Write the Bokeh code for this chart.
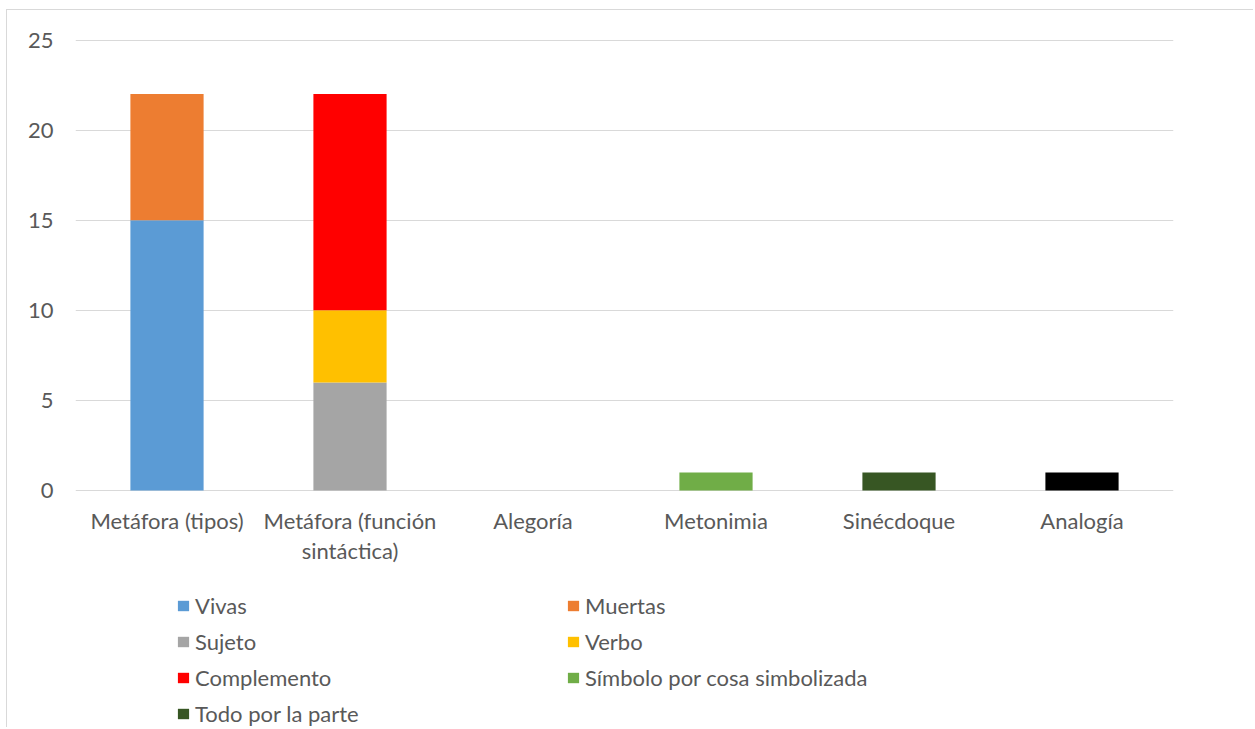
from bokeh.plotting import figure
from bokeh.models import Range1d, FactorRange, Legend, LegendItem, ColumnDataSource
from bokeh.core.properties import value
from bokeh.embed import file_html
from bokeh.resources import INLINE

# ---- data ----
categories = ["Metáfora (tipos)", "Metáfora (función sintáctica)", "Alegoría",
              "Metonimia", "Sinécdoque", "Analogía"]
tick_labels = ["Metáfora (tipos)", "Metáfora (función\nsintáctica)", "Alegoría",
               "Metonimia", "Sinécdoque", "Analogía"]
series = ["Vivas", "Muertas", "Sujeto", "Verbo", "Complemento",
          "Símbolo por cosa simbolizada", "Todo por la parte", "Analogía"]
vivas = [15, 0, 0, 0, 0, 0]
muertas = [7, 0, 0, 0, 0, 0]
sujeto = [0, 6, 0, 0, 0, 0]
verbo = [0, 4, 0, 0, 0, 0]
complemento = [0, 12, 0, 0, 0, 0]
simbolo = [0, 0, 0, 1, 0, 0]
todo = [0, 0, 0, 0, 1, 0]
analogia = [0, 0, 0, 0, 0, 1]
y_ticks = [0, 5, 10, 15, 20, 25]

colors = ["#5B9BD5", "#ED7D31", "#A5A5A5", "#FFC000", "#FF0000",
          "#70AD47", "#375623", "#000000"]

FONT = "Lato"
TXT = "#595959"
GRID = "#D9D9D9"

# ---- layout numbers (pixels) ----
W, H = 1247, 718
LEFT, TOP, RIGHT = 68, 29, 81
FRAME_H = H - TOP          # frame runs to the bottom of the canvas
AXIS_H = 451               # pixels between value 0 and the top of the frame
Y_TOP = 25.03
y_bottom = -(FRAME_H - AXIS_H) * Y_TOP / AXIS_H

keys = ["s%d" % i for i in range(len(series))]
data = {"cat": categories, "label": tick_labels, "zero": [0] * len(categories)}
for k, vals in zip(keys, [vivas, muertas, sujeto, verbo, complemento, simbolo, todo, analogia]):
    data[k] = vals
source = ColumnDataSource(data)

p = figure(x_range=FactorRange(factors=categories, range_padding=0),
           y_range=Range1d(y_bottom, Y_TOP),
           width=W, height=H,
           min_border_left=LEFT, min_border_right=RIGHT,
           min_border_top=TOP, min_border_bottom=0,
           output_backend="svg", toolbar_location=None)
p.styles = {"border-top": "1px solid #D9D9D9", "border-left": "1px solid #D9D9D9",
            "margin-left": "6px", "margin-top": "9px"}

renderers = p.vbar_stack(keys, x="cat", width=0.4, source=source,
                         fill_color=colors, line_color=None)

p.outline_line_color = None
p.xaxis.visible = False
p.xgrid.grid_line_color = None
p.ygrid.grid_line_color = GRID
p.ygrid.grid_line_width = 1
p.ygrid.ticker = y_ticks
p.yaxis.ticker = y_ticks
p.yaxis.axis_line_color = None
p.yaxis.major_tick_line_color = None
p.yaxis.major_tick_out = 0
p.yaxis.minor_tick_line_color = None
p.yaxis.major_label_standoff = 22
p.yaxis.major_label_text_font = FONT
p.yaxis.major_label_text_font_size = "22px"
p.yaxis.major_label_text_color = TXT

# category labels under the value-0 line
p.text(x="cat", y="zero", text="label", source=source,
       y_offset=16, text_align="center", text_baseline="top",
       text_font=value(FONT), text_font_size="22px", text_color=TXT,
       text_line_height=1.13)

items = [LegendItem(label=series[i], renderers=[renderers[i]]) for i in range(7)]
legend = Legend(items=items, location=(101, 1), orientation="horizontal", ncols=2,
                padding=0, margin=0, spacing=9,
                glyph_width=14, glyph_height=13, label_standoff=5,
                label_height=22, label_width=362,
                label_text_font=FONT, label_text_font_size="22px",
                label_text_color=TXT,
                border_line_color=None, background_fill_alpha=0)
p.add_layout(legend, "center")

open("out.html", "w").write(file_html(p, INLINE))
